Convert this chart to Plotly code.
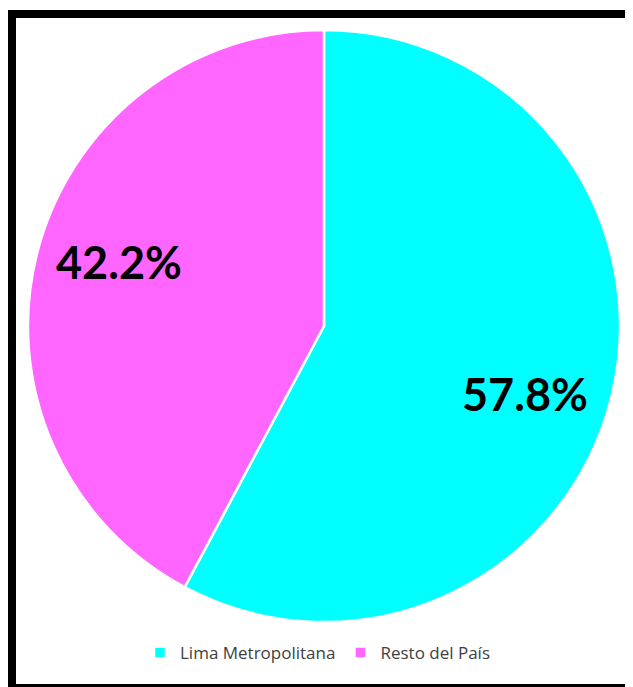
import math
import plotly.graph_objects as go

labels = ["Lima Metropolitana", "Resto del País"]
values = [57.8, 42.2]
colors = ["#00FFFF", "#FF66FF"]

W, H = 633, 687
OFF = 8  # page body margin in the browser

def px(x):
    return (x - OFF) / W

def py(y):
    return 1 - (y - OFF) / H

# pie geometry in screen pixels
CX, CY, R = 324, 326, 296
LABEL_R = 0.72
LABEL_ROT = 4  # degrees
LABEL_DY = 2   # px, baseline adjustment

fig = go.Figure()
fig.add_trace(go.Pie(
    labels=labels,
    values=values,
    sort=False,
    direction="clockwise",
    rotation=0,
    marker=dict(colors=colors, line=dict(color="white", width=2.5)),
    textinfo="none",
    hoverinfo="label+percent",
    domain=dict(x=[px(CX - R), px(CX + R)], y=[py(CY + R), py(CY - R)]),
    showlegend=True,
))

# percentage labels placed along each slice's bisector
total = sum(values)
cum = 0
annotations = []
for lab, v in zip(labels, values):
    mid = (cum + v / 2) / total * 360 + LABEL_ROT
    cum += v
    a = math.radians(mid)
    x = CX + LABEL_R * R * math.sin(a) - 2
    y = CY - LABEL_R * R * math.cos(a) + LABEL_DY
    annotations.append(dict(
        x=px(x), y=py(y), xref="paper", yref="paper",
        text=f"{v / total * 100:.1f}%",
        showarrow=False, xanchor="center", yanchor="middle",
        font=dict(family="Lato", size=45, color="black", weight="bold"),
    ))

fig.update_layout(
    width=W, height=H,
    margin=dict(l=0, r=0, t=0, b=0),
    paper_bgcolor="white",
    plot_bgcolor="white",
    annotations=annotations,
    legend=dict(
        orientation="h",
        x=px(140), xanchor="left",
        y=py(653), yanchor="middle",
        font=dict(family="Open Sans", size=17, color="#404040"),
        itemwidth=30,
        traceorder="normal",
    ),
    shapes=[dict(
        type="rect", xref="paper", yref="paper",
        x0=px(12), x1=px(634), y0=py(688), y1=py(14),
        line=dict(color="black", width=8),
        fillcolor="rgba(0,0,0,0)",
    )],
)

fig.write_html("out.html")
